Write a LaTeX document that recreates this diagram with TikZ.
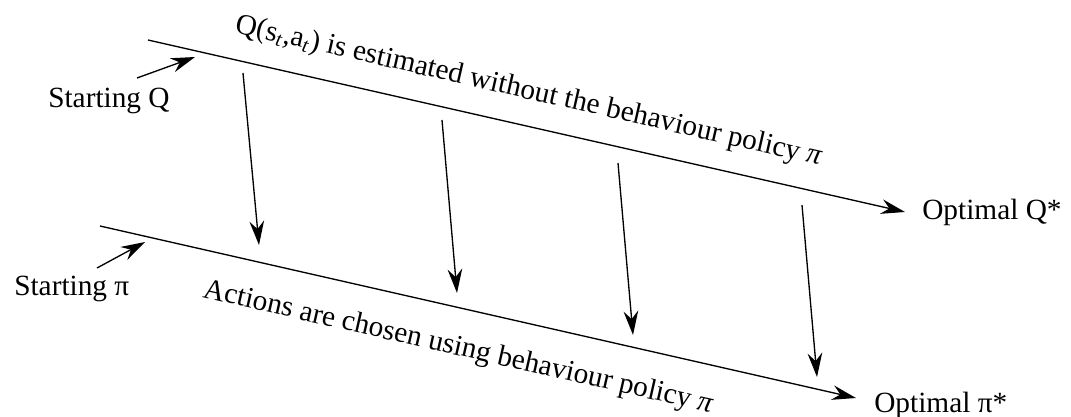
\documentclass[tikz,border=0pt]{standalone}
\usepackage{fontspec}
\setmainfont{Liberation Serif}
\usetikzlibrary{arrows.meta,positioning}

\tikzset{
  lbl/.style={inner sep=0.75pt, font=\fontsize{22}{26}\selectfont},
  flow/.style={line width=1pt, -{Stealth[length=18pt,width=11pt,inset=6pt]}},
}

\begin{document}
\begin{tikzpicture}[x=0.75pt,y=0.75pt,yscale=-1,xscale=1]
\useasboundingbox (0,0) rectangle (1071,417);

% ends of the two long lines
\coordinate (qstart) at (148,40);
\coordinate (qend) at (905,212);
\coordinate (pstart) at (100,226);
\coordinate (pend) at (856,398);

% Text Node
\node [lbl, right=12pt of qend] (qopt) {Optimal Q*};
% Text Node
\node [lbl, anchor=base west] (popt) at (873,412) {Optimal π*};
% Text Node
\node [lbl, anchor=base west] (sq) at (47,108) {Starting Q};
% Text Node
\node [lbl, anchor=base west] (sp) at (13,295) {Starting π};
% Text Node
\node [lbl, anchor=base west, rotate=-12.8] (qtxt) at (233,32) {Q(s\textsubscript{\textit{t}},a\textsubscript{\textit{t}}) is estimated without the behaviour policy \textit{π}};
% Text Node
\node [lbl, anchor=base west, rotate=-12.8] (ptxt) at (201,297) {Actions are chosen using behaviour policy \textit{π}};

%Straight Lines
\draw [flow] (qstart) -- (qend);
%Straight Lines
\draw [flow] (pstart) -- (pend);

% pointers from the start labels
\coordinate (sqfrom) at (137,78);
\coordinate (sqto) at (195,57);
\coordinate (spfrom) at (97,268);
\coordinate (spto) at (145,242);
%Straight Lines
\draw [flow] (sqfrom) -- (sqto);
%Straight Lines
\draw [flow] (spfrom) -- (spto);

% downward arrows from Q to pi
\coordinate (up1) at (243,73);
\coordinate (dn1) at (259,245);
\coordinate (up2) at (442,120);
\coordinate (dn2) at (457,293);
\coordinate (up3) at (618,163);
\coordinate (dn3) at (633,335);
\coordinate (up4) at (802,205);
\coordinate (dn4) at (817,377);
%Straight Lines
\draw [flow] (up1) -- (dn1);
%Straight Lines
\draw [flow] (up2) -- (dn2);
%Straight Lines
\draw [flow] (up3) -- (dn3);
%Straight Lines
\draw [flow] (up4) -- (dn4);

\end{tikzpicture}
\end{document}
